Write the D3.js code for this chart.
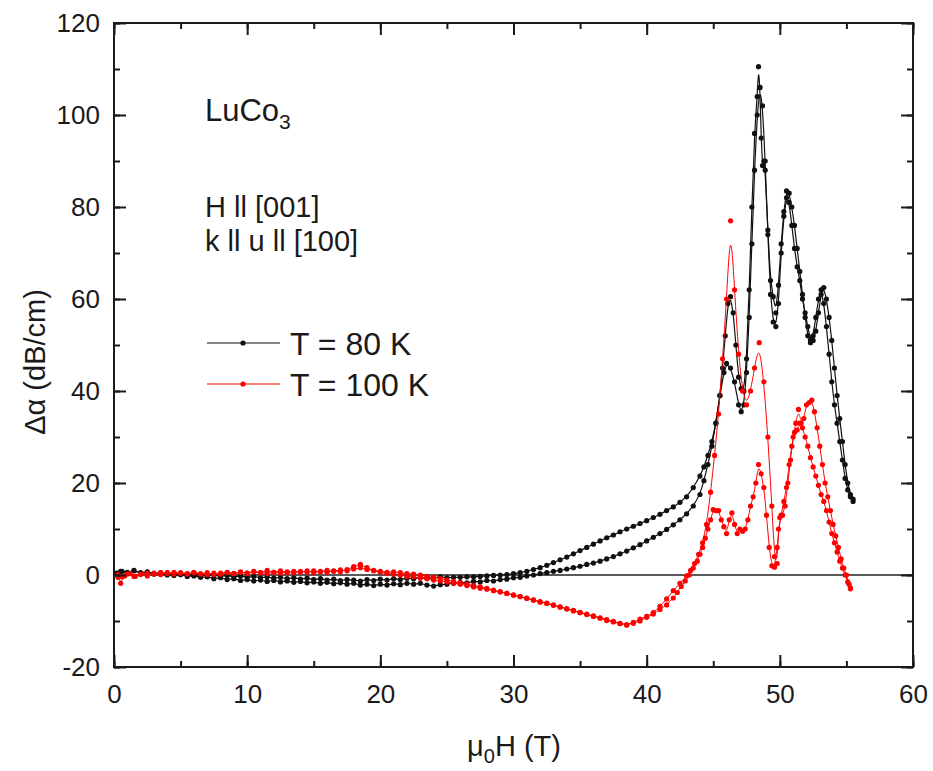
<!DOCTYPE html>
<html>
<head>
<meta charset="utf-8">
<script src="https://cdn.jsdelivr.net/npm/d3@7"></script>
<style>
  body { margin: 0; background: #fff; }
  svg text { font-family: "Liberation Sans", Arial, sans-serif; fill: #1a1a1a; }
</style>
</head>
<body>
<div id="chart"></div>
<script>
// T = 80 K, field up (lower branch between 30 and 44 T)
const up80 = [[0.2,0.3],[0.6,0.8],[1.0,0.5],[1.5,1.0],[2.0,0.4],[2.5,0.6],[3.0,0.2],[3.5,0.3],[4.0,0.0],[4.5,-0.1],
  [5.0,0.1],[5.5,-0.3],[6.0,-0.2],[6.5,-0.5],[7.0,-0.4],[7.5,-0.8],[8.0,-0.6],[8.5,-1.0],[9.0,-0.8],[9.5,-1.2],
  [10.0,-1.0],[10.5,-1.3],[11.0,-1.1],[11.5,-1.4],[12.0,-1.2],[12.5,-1.5],[13.0,-1.3],[13.5,-1.6],[14.0,-1.4],[14.5,-1.7],
  [15.0,-1.5],[15.5,-1.8],[16.0,-1.6],[16.5,-1.9],[17.0,-1.7],[17.5,-2.0],[18.0,-1.8],[18.5,-2.2],[19.0,-2.0],[19.5,-2.3],
  [20.0,-2.0],[20.5,-2.2],[21.0,-1.9],[21.5,-2.1],[22.0,-1.8],[22.5,-2.0],[23.0,-1.8],[23.5,-2.2],[24.0,-2.4],[24.5,-2.1],
  [25.0,-2.0],[25.5,-1.8],[26.0,-1.6],[26.5,-1.7],[27.0,-1.4],[27.5,-1.5],[28.0,-1.2],[28.5,-1.3],[29.0,-1.0],[29.5,-0.9],
  [30.0,-0.6],[30.5,-0.5],[31.0,-0.2],[31.5,0.0],[32.0,0.3],[32.5,0.5],[33.0,0.8],[33.5,1.0],[34.0,1.3],[34.5,1.6],
  [35.0,1.9],[35.5,2.3],[36.0,2.6],[36.5,3.0],[37.0,3.5],[37.5,4.0],[38.0,4.6],[38.5,5.2],[39.0,5.9],[39.5,6.6],
  [40.0,7.4],[40.5,8.2],[41.0,9.0],[41.5,9.9],[42.0,10.9],[42.5,12.0],[43.0,13.3],[43.5,15.0],[44.0,17.5],[44.3,20.5],
  [44.6,24],[44.9,28],[45.2,33],[45.5,39],[45.8,44],[46.0,46],[46.3,45],[46.6,42],[46.9,37],[47.1,35.5],
  [47.3,37],[47.5,44],[47.7,56],[47.9,72],[48.1,88],[48.3,100],[48.5,106],[48.7,102],[48.9,90],[49.1,74],
  [49.3,61],[49.5,55],[49.7,54],[49.9,59],[50.1,70],[50.3,78],[50.5,82],[50.7,81],[50.9,76],[51.1,71],
  [51.3,67],[51.5,64],[51.7,60],[51.9,57],[52.1,54],[52.3,51],[52.5,52],[52.7,56],[52.9,60],[53.1,62],
  [53.3,59],[53.5,54],[53.7,48],[53.9,42],[54.1,37],[54.3,33],[54.5,29],[54.7,25],[54.9,21],[55.1,18.5],
  [55.3,17],[55.5,16]];

// T = 80 K, field down (upper branch between 30 and 44 T)
const down80 = [[55.5,16.5],[55.3,17.5],[55.1,20],[54.9,24],[54.7,29],[54.5,34],[54.3,39],[54.1,45],[53.9,51],[53.7,56],
  [53.5,60],[53.3,62.5],[53.1,61],[52.9,57],[52.7,53],[52.5,51],[52.3,50.5],[52.1,52],[51.9,56],[51.7,61],
  [51.5,66],[51.3,71],[51.1,76],[50.9,80],[50.7,83],[50.5,83.5],[50.3,79],[50.1,72],[49.9,63],[49.7,57],
  [49.5,60.5],[49.3,64],[49.1,75],[48.9,88],[48.8,90],[48.7,89],[48.6,95],[48.5,106],[48.4,110.5],[48.3,104],
  [48.1,96],[47.9,80],[47.7,62],[47.5,47],[47.3,40],[47.1,40.5],[46.9,43],[46.7,50],[46.5,57],[46.3,60.5],
  [46.1,59],[45.9,52],[45.7,45],[45.5,39],[45.2,33],[44.9,29],[44.6,26],[44.3,23.5],[44.0,21.5],[43.5,19],
  [43.0,17],[42.5,15.8],[42.0,14.8],[41.5,14.0],[41.0,13.2],[40.5,12.5],[40.0,11.8],[39.5,11.2],[39.0,10.6],[38.5,10.0],
  [38.0,9.4],[37.5,8.7],[37.0,8.1],[36.5,7.4],[36.0,6.7],[35.5,6.0],[35.0,5.3],[34.5,4.6],[34.0,3.9],[33.5,3.3],
  [33.0,2.7],[32.5,2.1],[32.0,1.6],[31.5,1.2],[31.0,0.8],[30.5,0.5],[30.0,0.3],[29.5,0.1],[29.0,0.0],[28.5,-0.1],
  [28.0,-0.2],[27.5,-0.3],[27.0,-0.4],[26.5,-0.4],[26.0,-0.5],[25.5,-0.5],[25.0,-0.6],[24.5,-0.4],[24.0,-0.6],[23.5,-0.7],
  [23.0,-0.5],[22.5,-0.8],[22.0,-0.7],[21.5,-1.0],[21.0,-0.8],[20.5,-1.1],[20.0,-0.9],[19.5,-1.2],[19.0,-1.0],[18.5,-1.3],
  [18.0,-1.1],[17.5,-1.0],[17.0,-1.2],[16.5,-0.9],[16.0,-1.1],[15.5,-0.8],[15.0,-1.0],[14.5,-0.7],[14.0,-0.9],[13.5,-0.6],
  [13.0,-0.8],[12.5,-0.5],[12.0,-0.7],[11.5,-0.4],[11.0,-0.6],[10.5,-0.3],[10.0,-0.5],[9.5,-0.2],[9.0,-0.4],[8.5,-0.1],
  [8.0,-0.3],[7.5,0.0],[7.0,-0.2],[6.5,0.1],[6.0,0.0],[5.5,0.2],[5.0,0.1],[4.5,0.3],[4.0,0.2],[3.5,0.5],
  [3.0,0.3],[2.5,0.7],[2.0,0.5],[1.5,0.9],[1.0,0.6],[0.5,0.8],[0.2,0.4]];

// T = 100 K, field up
const up100 = [[0.3,-0.5],[0.5,-1.8],[0.8,-0.2],[1.2,0.3],[1.6,-0.3],[2.0,0.2],[2.5,-0.2],[3.0,0.4],[3.5,0.1],[4.0,0.6],
  [4.5,0.2],[5.0,0.5],[5.5,0.3],[6.0,0.6],[6.5,0.2],[7.0,0.5],[7.5,0.1],[8.0,0.4],[8.5,0.6],[9.0,0.3],
  [9.5,0.7],[10.0,0.4],[10.5,0.8],[11.0,0.5],[11.5,1.0],[12.0,0.6],[12.5,0.9],[13.0,0.5],[13.5,0.8],[14.0,0.6],
  [14.5,0.9],[15.0,0.5],[15.5,0.8],[16.0,0.6],[16.5,0.9],[17.0,0.7],[17.5,1.2],[18.0,1.8],[18.5,2.3],[19.0,1.6],
  [19.5,0.9],[20.0,0.6],[20.5,0.3],[21.0,0.2],[21.5,0.0],[22.0,-0.3],[22.5,-0.4],[23.0,-0.7],[23.5,-0.8],[24.0,-1.1],
  [24.5,-1.3],[25.0,-1.5],[25.5,-1.8],[26.0,-2.0],[26.5,-2.3],[27.0,-2.6],[27.5,-2.9],[28.0,-3.1],[28.5,-3.4],[29.0,-3.7],
  [29.5,-4.0],[30.0,-4.3],[30.5,-4.7],[31.0,-5.0],[31.5,-5.4],[32.0,-5.8],[32.5,-6.1],[33.0,-6.5],[33.5,-6.9],[34.0,-7.3],
  [34.5,-7.7],[35.0,-8.1],[35.5,-8.5],[36.0,-8.9],[36.5,-9.3],[37.0,-9.7],[37.5,-10.1],[38.0,-10.5],[38.5,-10.8],[39.0,-10.3],
  [39.5,-9.6],[40.0,-9.0],[40.5,-8.2],[41.0,-6.8],[41.5,-5.2],[42.0,-3.4],[42.5,-1.8],[43.0,-0.2],[43.3,1.0],[43.6,2.5],
  [43.9,4.5],[44.2,7.0],[44.5,11],[44.8,18],[45.1,26],[45.4,35],[45.7,47],[46.0,60],[46.3,77],[46.6,62],
  [46.9,48],[47.2,40],[47.5,37],[47.8,40],[48.1,45],[48.45,50.5],[48.8,42],[49.1,30],[49.4,15],[49.6,4],
  [49.8,2.5],[49.9,10],[50.1,13],[50.3,16],[50.5,19],[50.7,24],[50.9,28],[51.1,31],[51.3,31.5],[51.5,33],
  [51.7,32],[51.9,30],[52.1,28],[52.3,25.5],[52.5,23.5],[52.7,21.5],[52.9,19.5],[53.1,17.5],[53.3,16],[53.5,14],
  [53.7,11.5],[53.9,9],[54.1,7],[54.3,5],[54.5,3],[54.7,1.5],[54.9,0],[55.1,-1.5],[55.3,-2.8]];

// T = 100 K, field down
const down100 = [[55.3,-3],[55.2,-2],[55.0,0],[54.8,1.5],[54.6,3.5],[54.4,6],[54.2,8.5],[54.0,11],[53.8,14],[53.6,17],
  [53.4,20],[53.2,24],[53.0,28],[52.8,32],[52.6,35.5],[52.4,38],[52.2,37.5],[52.0,37],[51.8,34],[51.6,33],
  [51.4,36],[51.2,33],[51.0,30],[50.8,25],[50.6,20],[50.4,15],[50.2,13],[50.0,12.5],[49.8,6],[49.6,1.7],
  [49.4,2],[49.2,6],[49.0,13],[48.8,19],[48.6,22],[48.4,24],[48.2,20],[48.0,17],[47.8,15],[47.6,12],
  [47.4,10],[47.2,9.5],[47.0,10],[46.8,9],[46.6,11],[46.4,13.5],[46.2,12],[46.0,9],[45.8,10.5],[45.6,12],
  [45.4,14],[45.2,14],[45.0,14.2],[44.8,12],[44.6,10],[44.4,8],[44.2,6],[44.0,4.5],[43.8,3],[43.5,1.5],
  [43.2,0],[42.9,-1.3],[42.6,-2.5],[42.3,-3.8],[42.0,-5],[41.5,-6.5],[41.0,-7.5],[40.5,-8.5],[40.0,-9.2],[39.5,-10],
  [39.0,-10.5],[38.5,-10.9],[38.0,-10.6],[37.5,-10.2],[37.0,-9.9],[36.5,-9.4],[36.0,-9.0],[35.5,-8.6],[35.0,-8.2],[34.5,-7.8],
  [34.0,-7.4],[33.5,-7.0],[33.0,-6.6],[32.5,-6.2],[32.0,-5.9],[31.5,-5.5],[31.0,-5.1],[30.5,-4.7],[30.0,-4.4],[29.5,-4.0],
  [29.0,-3.6],[28.5,-3.3],[28.0,-2.9],[27.5,-2.6],[27.0,-2.3],[26.5,-2.0],[26.0,-1.7],[25.5,-1.4],[25.0,-1.1],[24.5,-0.8],
  [24.0,-0.5],[23.5,-0.3],[23.0,0.0],[22.5,0.2],[22.0,0.3],[21.5,0.5],[21.0,0.7],[20.5,0.6],[20.0,0.8],[19.5,1.0],
  [19.0,1.2],[18.5,1.6],[18.0,1.3],[17.5,0.9],[17.0,1.1],[16.5,0.8],[16.0,1.0],[15.5,0.7],[15.0,0.9],[14.5,0.6],
  [14.0,0.8],[13.5,0.5],[13.0,0.7],[12.5,0.4],[12.0,0.6],[11.5,0.3],[11.0,0.5],[10.5,0.7],[10.0,0.4],[9.5,0.6],
  [9.0,0.3],[8.5,0.5],[8.0,0.2],[7.5,0.4],[7.0,0.1],[6.5,0.3],[6.0,0.5],[5.5,0.2],[5.0,0.4],[4.5,0.6],
  [4.0,0.3],[3.5,0.5],[3.0,0.2],[2.5,0.4],[2.0,0.1],[1.5,-0.3],[1.0,0.2],[0.6,-0.4],[0.3,0.1]];

const xTicks = [0, 10, 20, 30, 40, 50, 60];
const yTicks = [-20, 0, 20, 40, 60, 80, 100, 120];
const legendLabels = ["T = 80 K", "T = 100 K"];

drawChart();

function drawChart() {
  const width = 933, height = 771;
  const left = 114, right = 913, top = 23, bottom = 667;

  const svg = d3.select("#chart").append("svg")
    .attr("width", width)
    .attr("height", height);

  const x = d3.scaleLinear().domain([0, 60]).range([left, right]);
  const y = d3.scaleLinear().domain([-20, 120]).range([bottom, top]);

  // 0 line
  svg.append("line")
    .attr("x1", left).attr("x2", right)
    .attr("y1", y(0)).attr("y2", y(0))
    .attr("stroke", "#222").attr("stroke-width", 1.5);

  const line = d3.line()
    .x(d => x(d[0]))
    .y(d => y(d[1]))
    .curve(d3.curveBasis);

  const black = "#111", red = "#ff0000";
  const series = [
    { data: up80, color: black, lw: 1.2 },
    { data: down80, color: black, lw: 1.2 },
    { data: up100, color: red, lw: 1 },
    { data: down100, color: red, lw: 1 }
  ];

  series.forEach(s => {
    svg.append("path")
      .attr("fill", "none")
      .attr("stroke", s.color)
      .attr("stroke-width", s.lw)
      .attr("d", line(s.data));
    svg.append("g").selectAll("circle")
      .data(s.data)
      .join("circle")
      .attr("cx", d => x(d[0]))
      .attr("cy", d => y(d[1]))
      .attr("r", 2.6)
      .attr("fill", s.color);
  });

  // axes: ticks inside on all four sides
  const minorX = d3.range(0, 61, 5);
  const minorY = d3.range(-20, 121, 10);
  const fmt = d => String(d);

  const bottomAxis = d3.axisBottom(x).tickValues(xTicks).tickSizeInner(-12).tickSizeOuter(0).tickPadding(18).tickFormat(fmt);
  const bottomMinor = d3.axisBottom(x).tickValues(minorX).tickSizeInner(-6).tickSizeOuter(0).tickFormat("");
  const topAxis = d3.axisTop(x).tickValues(xTicks).tickSizeInner(-12).tickSizeOuter(0).tickFormat("");
  const topMinor = d3.axisTop(x).tickValues(minorX).tickSizeInner(-6).tickSizeOuter(0).tickFormat("");
  const leftAxis = d3.axisLeft(y).tickValues(yTicks).tickSizeInner(-12).tickSizeOuter(0).tickPadding(14).tickFormat(fmt);
  const leftMinor = d3.axisLeft(y).tickValues(minorY).tickSizeInner(-6).tickSizeOuter(0).tickFormat("");
  const rightAxis = d3.axisRight(y).tickValues(yTicks).tickSizeInner(-12).tickSizeOuter(0).tickFormat("");
  const rightMinor = d3.axisRight(y).tickValues(minorY).tickSizeInner(-6).tickSizeOuter(0).tickFormat("");

  const axisGroups = [
    [bottomAxis, `translate(0,${bottom})`], [bottomMinor, `translate(0,${bottom})`],
    [topAxis, `translate(0,${top})`], [topMinor, `translate(0,${top})`],
    [leftAxis, `translate(${left},0)`], [leftMinor, `translate(${left},0)`],
    [rightAxis, `translate(${right},0)`], [rightMinor, `translate(${right},0)`]
  ];
  axisGroups.forEach(([ax, tr]) => {
    const g = svg.append("g").attr("transform", tr).call(ax);
    g.select(".domain").remove();
    g.selectAll("line").attr("stroke", "#1a1a1a").attr("stroke-width", 2);
    g.selectAll("text").attr("font-size", 26).attr("fill", "#1a1a1a")
      .attr("font-family", "Liberation Sans, Arial, sans-serif");
  });

  // frame
  svg.append("rect")
    .attr("x", left).attr("y", top)
    .attr("width", right - left).attr("height", bottom - top)
    .attr("fill", "none").attr("stroke", "#1a1a1a").attr("stroke-width", 2);

  // axis titles
  const xt = svg.append("text")
    .attr("x", 514).attr("y", 756)
    .attr("text-anchor", "middle")
    .attr("font-size", 29);
  xt.append("tspan").text("\u03bc");
  xt.append("tspan").attr("font-size", 20).attr("dy", 7).text("0");
  xt.append("tspan").attr("dy", -7).text("H (T)");

  svg.append("text")
    .attr("transform", "translate(45,362) rotate(-90)")
    .attr("text-anchor", "middle")
    .attr("font-size", 29)
    .text("\u0394\u03b1 (dB/cm)");

  // annotations
  const t1 = svg.append("text").attr("x", 205).attr("y", 121).attr("font-size", 31);
  t1.append("tspan").text("LuCo");
  t1.append("tspan").attr("font-size", 21).attr("dy", 8).text("3");
  svg.append("text").attr("x", 205).attr("y", 217).attr("font-size", 29).text("H ll [001]");
  svg.append("text").attr("x", 205).attr("y", 251).attr("font-size", 29).text("k ll u ll [100]");

  // legend
  const legendColors = [black, red];
  legendLabels.forEach((lab, i) => {
    const ly = 343 + i * 41;
    svg.append("line")
      .attr("x1", 207).attr("x2", 280).attr("y1", ly).attr("y2", ly)
      .attr("stroke", legendColors[i]).attr("stroke-width", 1.2);
    svg.append("circle").attr("cx", 243).attr("cy", ly).attr("r", 2.6).attr("fill", legendColors[i]);
    svg.append("text").attr("x", 290).attr("y", ly + 12).attr("font-size", 32).text(lab);
  });
}
</script>
</body>
</html>
